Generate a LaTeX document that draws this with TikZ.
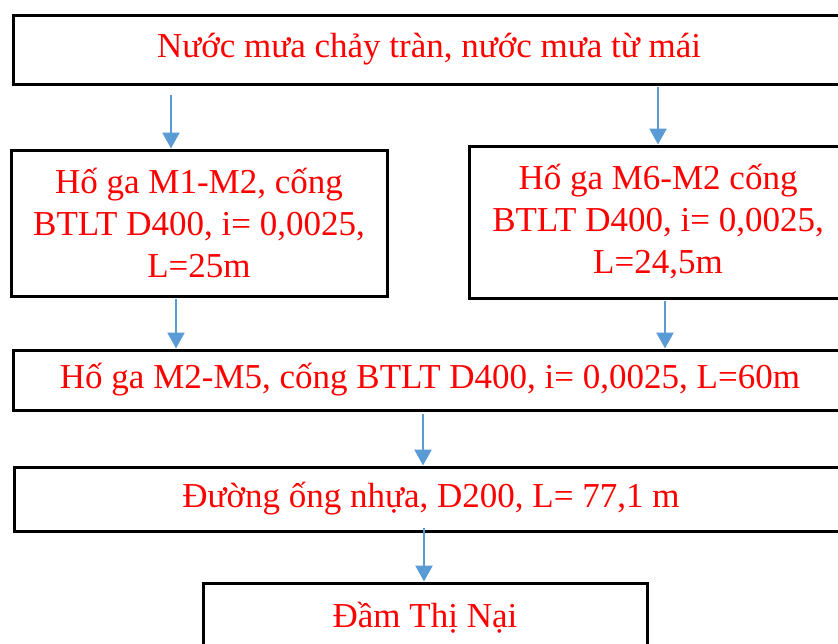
\documentclass[tikz,border=0pt]{standalone}
\usepackage{fontspec}
\setmainfont{Liberation Serif}
\usetikzlibrary{arrows.meta}
\usetikzlibrary{positioning}

\begin{document}
\begin{tikzpicture}[
    x=0.5pt, y=-0.5pt,
    box/.style={draw, line width=1.5pt, rectangle, align=center, text=red,
        font=\fontsize{17.5}{21}\selectfont, inner sep=0pt},
    flow/.style={draw={rgb,255:red,91;green,155;blue,213}, line width=1.3pt,
        -{Triangle[length=8pt, width=8.5pt]}},
]
\clip (0,0) rectangle (838,643);

% --- Source ---
\node[box, minimum width=416pt, minimum height=34.5pt] (rain) at (429,49.5)
    {Nước mưa chảy tràn, nước mưa từ mái};

% --- Two branches ---
\node[box, minimum width=188pt, minimum height=73pt] (lbox) at (199,223)
    {Hố ga M1-M2, cống\\BTLT D400, i= 0,0025,\\L=25m};
\node[box, minimum width=189pt, minimum height=76pt] (rbox) at (658,222)
    {Hố ga M6-M2 cống\\BTLT D400, i= 0,0025,\\L=24,5m};

% --- Collector and outlet ---
\node[box, minimum width=417pt, minimum height=30pt] (mid) at (430,380)
    {Hố ga M2-M5, cống BTLT D400, i= 0,0025, L=60m};
\node[box, minimum width=417pt, minimum height=32pt] (pipe) at (431,499)
    {Đường ống nhựa, D200, L= 77,1 m};
\node[box, minimum width=222pt, minimum height=35pt] (dam) at (425,618)
    {Đầm Thị Nại};

% --- Arrow starts ---
\coordinate (a1) at (171,95);
\coordinate (a2) at (658,87);
\coordinate (a3) at (176,299);
\coordinate (a4) at (665,301);
\coordinate (a5) at (423,414);
\coordinate (a6) at (424,528);

% --- Arrows ---
\draw[flow] (a1) -- (a1 |- lbox.north);
\draw[flow] (a2) -- (a2 |- rbox.north);
\draw[flow] (a3) -- (a3 |- mid.north);
\draw[flow] (a4) -- (a4 |- mid.north);
\draw[flow] (a5) -- (a5 |- pipe.north);
\draw[flow] (a6) -- (a6 |- dam.north);

\end{tikzpicture}
\end{document}
